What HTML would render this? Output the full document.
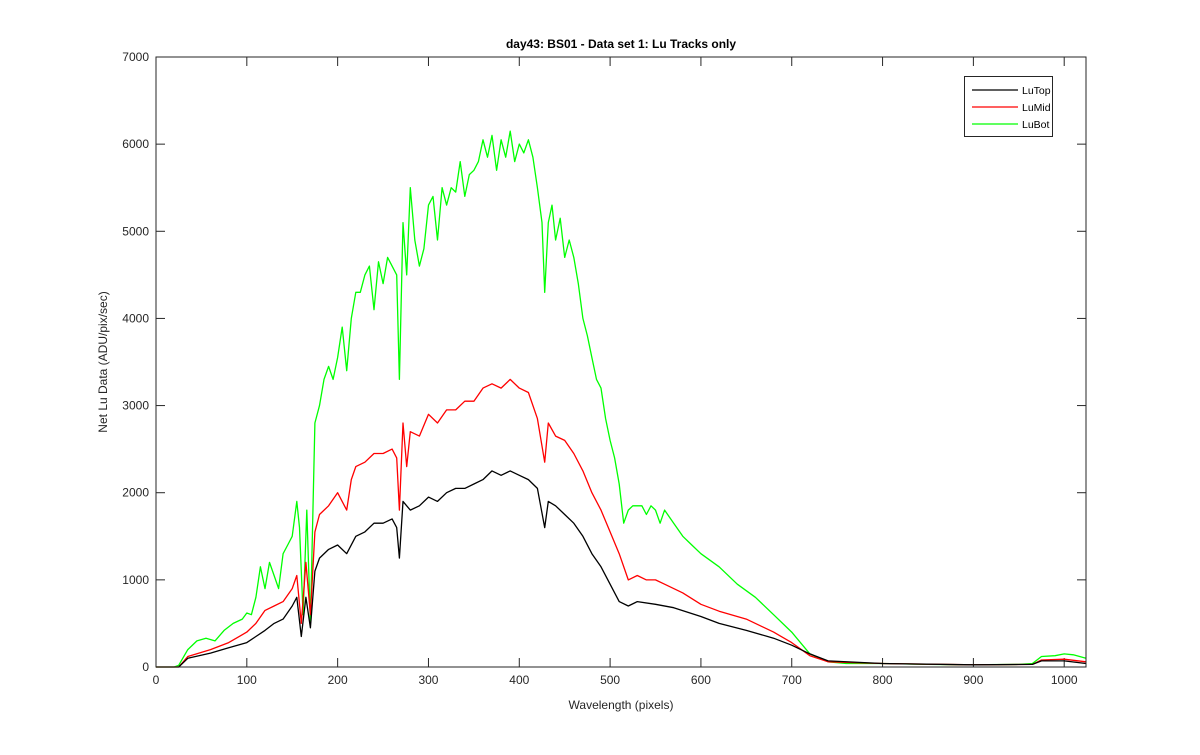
<!DOCTYPE html>
<html><head><meta charset="utf-8"><style>
body{margin:0;background:#fff;width:1200px;height:750px;overflow:hidden}
text{font-family:"Liberation Sans",sans-serif}
</style></head><body>
<svg id="chart" width="1200" height="750" xmlns="http://www.w3.org/2000/svg">
<rect x="0" y="0" width="1200" height="750" fill="#fff"/>
<text x="621" y="48" font-size="12" font-weight="bold" text-anchor="middle" fill="#000">day43: BS01 - Data set 1: Lu Tracks only</text>
<g id="axes"></g>
<g id="series"></g>
<rect x="156" y="57" width="930" height="610" fill="none" stroke="#262626" stroke-width="1"/>
<text x="621" y="709" font-size="12" text-anchor="middle" fill="#262626">Wavelength (pixels)</text>
<text transform="translate(107,362) rotate(-90)" font-size="12" text-anchor="middle" fill="#262626">Net Lu Data (ADU/pix/sec)</text>
<g>
<rect x="964.5" y="76.5" width="88" height="60" fill="#fff" stroke="#262626"/>
<g><line x1="972" y1="90" x2="1018" y2="90" stroke="#000" stroke-width="1.3"/><text x="1022" y="94" font-size="10.5" fill="#000">LuTop</text></g>
<g><line x1="972" y1="107" x2="1018" y2="107" stroke="#f00" stroke-width="1.3"/><text x="1022" y="111" font-size="10.5" fill="#000">LuMid</text></g>
<g><line x1="972" y1="124" x2="1018" y2="124" stroke="#0f0" stroke-width="1.3"/><text x="1022" y="128" font-size="10.5" fill="#000">LuBot</text></g>
</g>
</svg>
<script>
const xTicks=[0,100,200,300,400,500,600,700,800,900,1000];
const yTicks=[0,1000,2000,3000,4000,5000,6000,7000];
const greenX=[0,20,25,35,45,55,65,75,85,95,100,105,110,115,120,125,130,135,140,145,150,155,158,162,166,170,175,180,185,190,195,200,205,210,215,220,225,230,235,240,245,250,255,260,265,268,272,276,280,285,290,295,300,305,310,315,320,325,330,335,340,345,350,355,360,365,370,375,380,385,390,395,400,405,410,415,420,425,428,432,436,440,445,450,455,460,465,470,475,480,485,490,495,500,505,510,515,520,525,535,540,545,550,555,560,570,580,590,600,620,640,660,680,700,720,740,760,800,850,900,950,965,975,990,1000,1010,1024];
const greenY=[0,0,20,200,300,330,300,420,500,550,620,600,800,1150,900,1200,1050,900,1300,1400,1500,1900,1600,600,1800,500,2800,3000,3300,3450,3300,3550,3900,3400,4000,4300,4300,4500,4600,4100,4650,4400,4700,4600,4500,3300,5100,4500,5500,4900,4600,4800,5300,5400,4900,5500,5300,5500,5450,5800,5400,5650,5700,5800,6050,5850,6100,5700,6050,5850,6150,5800,6000,5900,6050,5850,5500,5100,4300,5100,5300,4900,5150,4700,4900,4700,4400,4000,3800,3550,3300,3200,2850,2600,2400,2100,1650,1800,1850,1850,1750,1850,1800,1650,1800,1650,1500,1400,1300,1150,950,800,600,400,150,60,40,40,30,25,30,40,120,130,150,140,100];
const redX=[0,25,35,60,80,100,110,120,130,140,150,155,160,165,170,175,180,190,200,210,215,220,230,240,250,260,265,268,272,276,280,290,300,310,320,330,340,350,360,370,380,390,400,410,420,428,432,440,450,460,470,480,490,500,510,520,530,540,550,560,580,600,620,650,680,700,720,740,800,900,965,975,1000,1024];
const redY=[0,0,120,200,280,400,500,650,700,750,900,1050,500,1200,600,1550,1750,1850,2000,1800,2150,2300,2350,2450,2450,2500,2400,1800,2800,2300,2700,2650,2900,2800,2950,2950,3050,3050,3200,3250,3200,3300,3200,3150,2850,2350,2800,2650,2600,2450,2250,2000,1800,1550,1300,1000,1050,1000,1000,950,850,720,640,550,400,280,130,60,40,25,30,80,90,60];
const blackX=[0,25,35,60,80,100,110,120,130,140,150,155,160,165,170,175,180,190,200,210,220,230,240,250,260,265,268,272,280,290,300,310,320,330,340,350,360,370,380,390,400,410,420,428,432,440,450,460,470,480,490,500,510,520,530,550,570,600,620,650,680,700,720,740,800,900,965,975,1000,1024];
const blackY=[0,0,100,160,220,280,350,420,500,550,700,800,350,800,450,1100,1250,1350,1400,1300,1500,1550,1650,1650,1700,1600,1250,1900,1800,1850,1950,1900,2000,2050,2050,2100,2150,2250,2200,2250,2200,2150,2050,1600,1900,1850,1750,1650,1500,1300,1150,950,750,700,750,720,680,580,500,420,330,250,150,70,40,25,30,70,70,40];
const X0=156,X1=1086,XMAX=1024,Y0=667,Y1=57,YMAX=7000;
const sx=v=>X0+v/XMAX*(X1-X0);
const sy=v=>Y0-v/YMAX*(Y0-Y1);
const NS="http://www.w3.org/2000/svg";
const axes=document.getElementById('axes');
xTicks.forEach(t=>{
  const x=sx(t);
  const l1=document.createElementNS(NS,'line');
  l1.setAttribute('x1',x);l1.setAttribute('x2',x);l1.setAttribute('y1',Y0);l1.setAttribute('y2',Y0-9);l1.setAttribute('stroke','#262626');
  
  
  axes.appendChild(l1);
  const l2=document.createElementNS(NS,'line');
  l2.setAttribute('x1',x);l2.setAttribute('x2',x);l2.setAttribute('y1',Y1);l2.setAttribute('y2',Y1+9);l2.setAttribute('stroke','#262626');
  
  
  axes.appendChild(l2);
  const tx=document.createElementNS(NS,'text');
  tx.setAttribute('x',x);tx.setAttribute('y',Y0+17);tx.setAttribute('font-size','12');tx.setAttribute('text-anchor','middle');tx.setAttribute('fill','#262626');
  tx.textContent=t;
  
  
  axes.appendChild(tx);
});
yTicks.forEach(t=>{
  const y=sy(t);
  const l1=document.createElementNS(NS,'line');
  l1.setAttribute('x1',X0);l1.setAttribute('x2',X0+9);l1.setAttribute('y1',y);l1.setAttribute('y2',y);l1.setAttribute('stroke','#262626');
  
  
  axes.appendChild(l1);
  const l2=document.createElementNS(NS,'line');
  l2.setAttribute('x1',X1);l2.setAttribute('x2',X1-9);l2.setAttribute('y1',y);l2.setAttribute('y2',y);l2.setAttribute('stroke','#262626');
  
  
  axes.appendChild(l2);
  const tx=document.createElementNS(NS,'text');
  tx.setAttribute('x',X0-7);tx.setAttribute('y',y+4);tx.setAttribute('font-size','12');tx.setAttribute('text-anchor','end');tx.setAttribute('fill','#262626');
  tx.textContent=t;
  
  
  axes.appendChild(tx);
});
const ser=document.getElementById('series');
function draw(xs,ys,color,name){
  const p=document.createElementNS(NS,'polyline');
  p.setAttribute('points',xs.map((x,i)=>sx(x).toFixed(1)+','+sy(ys[i]).toFixed(1)).join(' '));
  p.setAttribute('fill','none');p.setAttribute('stroke',color);p.setAttribute('stroke-width','1.3');p.setAttribute('stroke-linejoin','round');
  
  
  ser.appendChild(p);
}
draw(greenX,greenY,'#00ff00','lubot-line');
draw(redX,redY,'#ff0000','lumid-line');
draw(blackX,blackY,'#000000','lutop-line');
</script>
</body></html>
